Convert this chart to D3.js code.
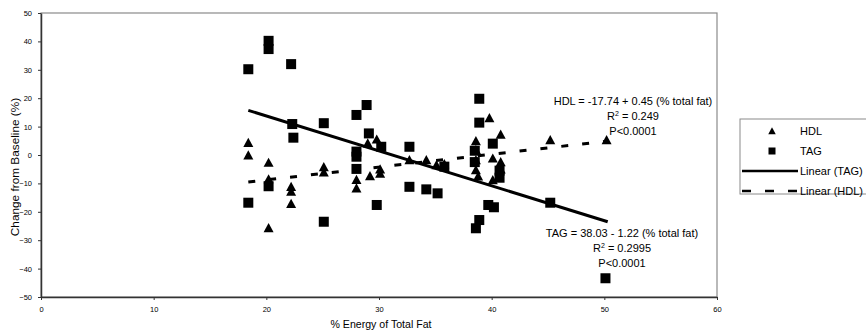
<!DOCTYPE html>
<html>
<head>
<meta charset="utf-8">
<script src="https://cdn.jsdelivr.net/npm/d3@7/dist/d3.min.js"></script>
<style>
  body { margin: 0; background: #fff; }
  svg text { font-family: "Liberation Sans", Arial, sans-serif; fill: #000; }
</style>
</head>
<body>
<div id="chart"></div>
<script>
// HDL change (triangles): [% energy of total fat, change from baseline %]
const hdlPoints = [
  [18.4, 4.3], [18.4, -0.1], [20.2, -2.7], [20.2, -8.5], [20.2, -25.7],
  [22.2, -11.2], [22.2, -12.9], [22.2, -17.2], [25.1, -4.2], [25.1, -6.1],
  [28.0, -8.7], [28.0, -11.7], [29.0, 4.1], [29.8, 5.5], [29.2, -7.4],
  [30.1, -5.0], [30.1, -6.5], [32.7, -1.8], [34.2, -1.8], [35.1, -3.5],
  [35.8, -3.2], [38.6, 4.9], [38.6, 1.8], [38.6, -1.8], [38.6, -5.3],
  [38.8, -7.5], [39.8, 13.0], [40.8, 7.2], [40.1, -1.2], [40.8, -2.5],
  [40.8, -5.0], [40.1, -8.8], [45.2, 5.3], [50.2, 5.3]
];

// TAG change (squares)
const tagPoints = [
  [18.4, 30.2], [18.4, -16.8], [20.2, 40.2], [20.2, 37.3], [20.2, -11.0],
  [22.2, 32.0], [22.3, 10.9], [22.4, 6.1], [25.1, 11.2], [25.1, -23.5],
  [28.0, 14.1], [28.9, 17.6], [29.1, 7.6], [28.0, 1.2], [28.0, -0.6],
  [28.0, -4.9], [30.2, 2.9], [29.8, -17.6], [32.7, 2.9], [32.7, -11.2],
  [34.2, -12.1], [35.2, -13.5], [35.8, -4.1], [38.9, 19.8], [38.9, 11.4],
  [40.1, 4.0], [38.5, 1.5], [38.5, -2.5], [40.7, -5.5], [40.7, -8.0],
  [39.7, -17.6], [40.2, -18.4], [38.9, -22.9], [38.6, -25.8], [45.2, -16.8],
  [50.1, -43.4]
];

// trend line end points
const tagTrend = [[18.4, 15.7], [50.3, -23.5]];
const hdlTrend = [[18.4, -9.5], [50.3, 4.9]];

const xTicks = [0, 10, 20, 30, 40, 50, 60];
const yTicks = [-50, -40, -30, -20, -10, 0, 10, 20, 30, 40, 50];

const hdlLabel = ["HDL = -17.74 + 0.45 (% total fat)", "0.249", "P<0.0001"];
const tagLabel = ["TAG = 38.03 - 1.22 (% total fat)", "0.2995", "P<0.0001"];

const legendNames = ["HDL", "TAG", "Linear (TAG)", "Linear (HDL)"];

const width = 866;
const height = 334;
const plot = { left: 41, right: 717, top: 13, bottom: 297 };

const svg = d3.select("#chart")
  .append("svg")
  .attr("width", width)
  .attr("height", height);

const x = d3.scaleLinear().domain([0, 60]).range([plot.left, plot.right]);
const y = d3.scaleLinear().domain([-50, 50]).range([plot.bottom, plot.top]);

/* plot frame */
svg.append("rect")
  .attr("x", plot.left)
  .attr("y", plot.top)
  .attr("width", plot.right - plot.left)
  .attr("height", plot.bottom - plot.top)
  .attr("fill", "none")
  .attr("stroke", "#8a8a8a")
  .attr("stroke-width", 1.2);

/* axes */
const xAxis = d3.axisBottom(x).tickValues(xTicks).tickSize(3).tickSizeOuter(0).tickPadding(7);
const yAxis = d3.axisLeft(y).tickValues(yTicks).tickSize(3).tickSizeOuter(0).tickPadding(6);

const gx = svg.append("g")
  .attr("transform", `translate(0, ${plot.bottom})`)
  .call(xAxis);

const gy = svg.append("g")
  .attr("transform", `translate(${plot.left}, 0)`)
  .call(yAxis);

[gx, gy].forEach((g) => {
  g.select(".domain").attr("stroke", "#333").attr("stroke-width", 1.5);
  g.selectAll(".tick line").attr("stroke", "#333");
  g.selectAll(".tick text")
    .attr("font-size", "7.5px")
    .attr("font-family", "Liberation Sans, Arial, sans-serif")
    .attr("fill", "#000");
});

svg.append("text")
  .attr("x", 381)
  .attr("y", 328)
  .attr("text-anchor", "middle")
  .attr("font-size", "10.6px")
  .text("% Energy of Total Fat");

svg.append("text")
  .attr("transform", "translate(19, 167) rotate(-90)")
  .attr("text-anchor", "middle")
  .attr("font-size", "11.8px")
  .text("Change from Baseline (%)");

/* trend lines */
const line = d3.line().x((d) => x(d[0])).y((d) => y(d[1]));

svg.append("path")
  .attr("d", line(tagTrend))
  .attr("fill", "none")
  .attr("stroke", "#000")
  .attr("stroke-width", 3);

svg.append("path")
  .attr("d", line(hdlTrend))
  .attr("fill", "none")
  .attr("stroke", "#000")
  .attr("stroke-width", 3)
  .attr("stroke-dasharray", "7,14");

/* markers */
const triangle = (s) => `M0,${-s * 0.5}L${s * 0.5},${s * 0.42}L${-s * 0.5},${s * 0.42}Z`;

svg.append("g")
  .selectAll("path")
  .data(hdlPoints)
  .enter()
  .append("path")
  .attr("transform", (d) => `translate(${x(d[0])}, ${y(d[1])})`)
  .attr("d", triangle(10))
  .attr("fill", "#000");

svg.append("g")
  .selectAll("rect")
  .data(tagPoints)
  .enter()
  .append("rect")
  .attr("x", (d) => x(d[0]) - 5)
  .attr("y", (d) => y(d[1]) - 5)
  .attr("width", 10)
  .attr("height", 10)
  .attr("fill", "#000");

/* equations */
const addLabel = (lines, cx, y0) => {
  const g = svg.append("g").attr("font-size", "11px").attr("text-anchor", "middle");
  g.append("text").attr("x", cx).attr("y", y0).text(lines[0]);
  const r = g.append("text").attr("x", cx).attr("y", y0 + 14.8);
  r.append("tspan").text("R");
  r.append("tspan").attr("font-size", "7px").attr("dy", -4).text("2");
  r.append("tspan").attr("dy", 4).text(" = " + lines[1]);
  g.append("text").attr("x", cx).attr("y", y0 + 29.5).text(lines[2]);
};

addLabel(hdlLabel, 633, 105);
addLabel(tagLabel, 622, 237);

/* legend */
const legend = svg.append("g").attr("transform", "translate(740, 119)");

legend.append("rect")
  .attr("x", 0)
  .attr("y", 0)
  .attr("width", 140)
  .attr("height", 75)
  .attr("fill", "#fff")
  .attr("stroke", "#8a8a8a");

const rowY = (i) => 12 + i * 20;

legend.append("path")
  .attr("transform", `translate(32, ${rowY(0)})`)
  .attr("d", triangle(7.5))
  .attr("fill", "#000");

legend.append("rect")
  .attr("x", 28.5)
  .attr("y", rowY(1) - 3.5)
  .attr("width", 7)
  .attr("height", 7)
  .attr("fill", "#000");

legend.append("line")
  .attr("x1", 2).attr("x2", 58)
  .attr("y1", rowY(2)).attr("y2", rowY(2))
  .attr("stroke", "#000")
  .attr("stroke-width", 2.5);

legend.append("line")
  .attr("x1", 2).attr("x2", 58)
  .attr("y1", rowY(3)).attr("y2", rowY(3))
  .attr("stroke", "#000")
  .attr("stroke-width", 2.5)
  .attr("stroke-dasharray", "9,14");

legend.selectAll("text.item")
  .data(legendNames)
  .enter()
  .append("text")
  .attr("class", "item")
  .attr("x", 60)
  .attr("y", (d, i) => rowY(i))
  .attr("dy", "0.35em")
  .attr("font-size", "11px")
  .text((d) => d);
</script>
</body>
</html>
